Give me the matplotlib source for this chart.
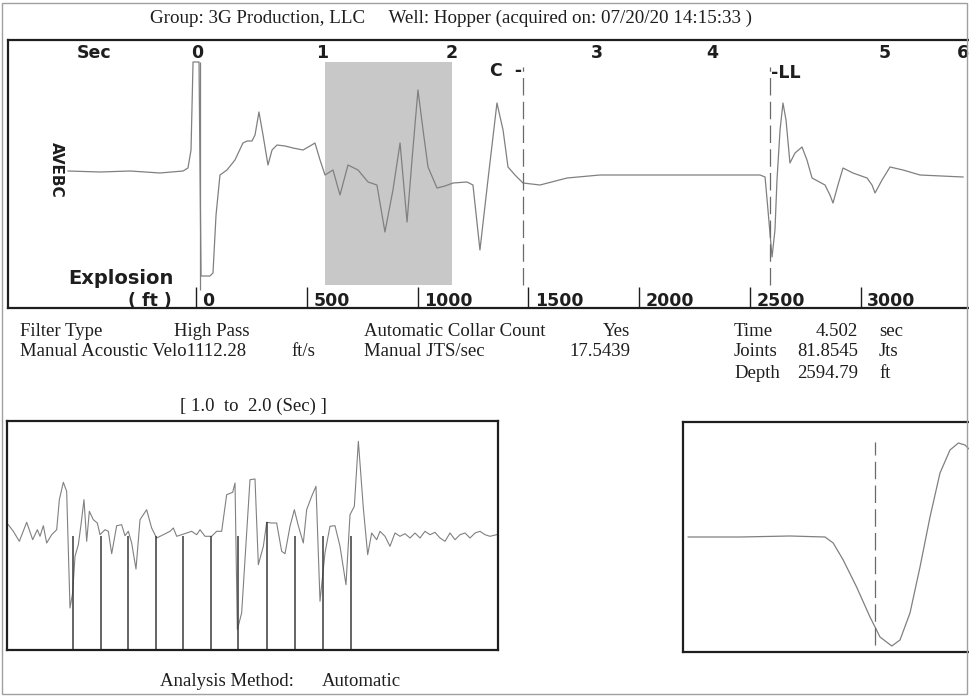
import matplotlib
matplotlib.use('Agg')
import matplotlib.pyplot as plt
from matplotlib.patches import Rectangle

W, H = 969, 697

# ---- full shot trace (time in sec, relative amplitude) ----
shot_t = [-1.024, -0.772, -0.535, -0.299, -0.118, -0.079, -0.055, -0.039, 0.008, 0.024,
          0.094, 0.118, 0.142, 0.173, 0.228, 0.291, 0.354, 0.386, 0.425, 0.449,
          0.480, 0.512, 0.551, 0.583, 0.622, 0.685, 0.748, 0.827, 0.882, 0.921,
          0.961, 1.000, 1.063, 1.118, 1.181, 1.260, 1.339, 1.409, 1.472, 1.535,
          1.591, 1.646, 1.685, 1.732, 1.772, 1.811, 1.882, 1.945, 2.008, 2.118,
          2.165, 2.220, 2.283, 2.354, 2.402, 2.441, 2.496, 2.559, 2.693, 2.906,
          3.165, 3.559, 3.850, 4.425, 4.465, 4.488, 4.520, 4.543, 4.559, 4.583,
          4.606, 4.630, 4.661, 4.701, 4.756, 4.795, 4.835, 4.937, 4.976, 5.000,
          5.039, 5.079, 5.157, 5.268, 5.307, 5.331, 5.386, 5.449, 5.551, 5.685,
          6.024]
shot_amp = [1, 0, 1, -1, 1, 4, 22, 110, 110, -104,
            -104, -101, -43, -3, 2, 12, 29, 31, 31, 37,
            60, 37, 7, 22, 27, 26, 24, 22, 26, 29,
            12, -3, 2, -23, 7, 2, -10, -13, -60, -18,
            29, -50, 12, 82, 42, 5, -16, -14, -11, -10,
            -13, -78, -8, 69, 42, 5, -3, -11, -13, -6,
            -3, -3, -3, -3, -5, -38, -85, -58, -8, 42,
            69, 52, 9, 19, 25, 12, -6, -13, -23, -31,
            -13, 4, -1, -6, -13, -21, -8, 5, 2, -3,
            -5]

sec_labels = ['0', '1', '2', '3', '4', '5', '6']
sec_label_pos = [-0.01, 0.976, 2.0, 3.142, 4.047, 5.409, 6.024]
depth_ticks = [0, 500, 1000, 1500, 2000, 2500, 3000]
explosion_t = 0.016
collar_t = 2.56
liquid_t = 4.502
window = (1.0, 2.0)

# ---- filtered window 1.0 - 2.0 sec (time in ms into window) ----
win_ms = [2.7, 12.9, 25.1, 40.1, 52.3, 61.8, 67.2, 74.0, 80.8, 91.0,
          101.2, 106.6, 114.7, 121.5, 128.3, 133.7, 138.5, 145.3, 150.7, 156.8,
          162.3, 167.7, 175.8, 184.0, 189.4, 199.6, 206.4, 213.2, 223.4, 233.5,
          240.3, 247.1, 253.9, 262.7, 270.9, 284.4, 294.6, 304.8, 318.4, 332.0,
          338.8, 345.6, 355.7, 365.9, 376.1, 386.3, 393.1, 403.3, 416.8, 427.0,
          437.2, 447.4, 459.6, 464.4, 469.1, 477.9, 488.1, 494.9, 505.1, 511.9,
          522.1, 528.9, 539.0, 549.2, 559.4, 566.2, 576.4, 585.2, 593.3, 603.5,
          610.3, 620.5, 629.3, 637.5, 647.6, 657.8, 668.0, 678.2, 690.4, 698.6,
          707.4, 715.6, 725.7, 734.6, 742.7, 752.9, 759.7, 769.9, 780.0, 790.2,
          800.4, 810.6, 820.8, 831.0, 841.1, 851.3, 861.5, 871.7, 881.9, 892.1,
          902.2, 912.4, 922.6, 932.8, 943.0, 953.2, 963.3, 973.5, 983.7, 997.3]
win_amp = [8.3, 1.7, -8.3, 10.7, -6.7, 3.3, -3.3, 7.3, -10, -1.7,
           3.3, 33.3, 50.7, 41.7, -75, -60, -23.3, -11.7, 8.3, 33.3,
           -8.3, 21.7, 13.3, 10, -1.7, 3.3, 1.7, -20.7, 7.3, 8.3,
           -2.7, 1.7, -10, -36, 13.3, 23.3, 5, -5, -1.7, 1.7,
           5, -3.3, -1.7, 0, 1.7, -1.7, 3.3, -3.3, -3.3, 1.7,
           1.7, 38.3, 40.7, 50, -96.7, -80, 0, 53.3, 54, -31.7,
           -13.3, 10.7, 10, 10, -18.3, -20.7, 6.7, 23.3, 7.3, -10,
           23.3, 36.7, 46.7, -68.3, -20, 6.7, 7.3, -13.3, -51.7, 18.3,
           26.7, 91.7, 25, -21.7, 0, -6.7, 1.7, -3.3, -13.3, 0,
           -3.3, -0.7, -5, 0, -5, 1.7, -1.7, 0.7, -5, -8.3,
           0, -6.7, -1.7, 0, -5, 0, 1.7, -1.7, -3.3, -1.7]
joint_ms = [133.8, 190.8, 247.0, 303.5, 359.1, 415.5, 471.1, 528.9, 585.9, 643.0, 700.0]
joint_top = [-3, -3, -3, -3, -3, -3, -3, 11, -3, -3, -3]

# ---- liquid level kick (ms relative to pick) ----
ll_ms = [-93.4, -67.5, -42.5, -25.0, -20.9, -15.9, -9.2, -2.5, 2.5, 8.4,
         12.5, 17.5, 22.5, 27.5, 32.5, 37.5, 41.7, 45.0, 47.5]
ll_amp = [0, 0, 1, 0, -6, -23, -50, -80, -100, -109,
          -103, -76, -30, 20, 64, 87, 94, 92, 87]

SERIF = 'Liberation Serif'
INK = '#1e1e1e'
TRACE = '#808080'


def box(x0, y0, x1, y1):
    return [x0 / W, 1 - y1 / H, (x1 - x0) / W, (y1 - y0) / H]


def frame(ax, right=True):
    for side, sp in ax.spines.items():
        sp.set_color(INK)
        sp.set_linewidth(1.6)
    if not right:
        ax.spines['right'].set_visible(False)
    ax.set_xticks([])
    ax.set_yticks([])


def px_to_sec(px):
    return (px - 198) / 127.0


def ft_to_sec(ft):
    return (ft * 0.2216 - 2) / 127.0


fig = plt.figure(figsize=(W / 100, H / 100), dpi=100)
fig.patch.set_facecolor('white')

# page border of the scan
fig.patches.append(Rectangle((0.002, 0.004), 0.996, 0.992, transform=fig.transFigure,
                             fill=False, edgecolor='#a0a0a0', lw=1.0))

fig.text(150 / W, 1 - 18 / H,
         'Group: 3G Production, LLC     Well: Hopper (acquired on: 07/20/20 14:15:33 )',
         family=SERIF, fontsize=13.7, color=INK, ha='left', va='center')

# ---- main panel ----
ax = fig.add_axes(box(8, 40, 969, 308))
ax.set_xlim(px_to_sec(8), px_to_sec(969))
ax.set_ylim(-136, 132)
frame(ax, right=False)

ax.fill_between(list(window), -113, 110, color='#c8c8c8', lw=0, zorder=1)
ax.plot(shot_t, shot_amp, color=TRACE, lw=0.9, zorder=3)
ax.vlines(explosion_t, -118, 110, color=TRACE, lw=0.9, zorder=3)
ax.vlines([collar_t, liquid_t], -113, 105, color='#6a6a6a', lw=0.9,
          linestyles=(0, (14, 5)), zorder=3)

bold = dict(family='DejaVu Sans', weight='bold', color=INK, fontsize=12.5)
ax.text(px_to_sec(94), 119, 'Sec', ha='center', va='center', **bold)
for pos, lab in zip(sec_label_pos, sec_labels):
    ax.text(pos, 119, lab, ha='center', va='center', **bold)
ax.text(collar_t - 0.01, 101, 'C  -', ha='right', va='center', **bold)
ax.text(liquid_t + 0.01, 99, '-LL', ha='left', va='center', **bold)
ax.text(px_to_sec(68), -106, 'Explosion', ha='left', va='center',
        family='DejaVu Sans', weight='bold', color=INK, fontsize=14)
ax.text(px_to_sec(150), -129, '( ft )', ha='center', va='center', **bold)
for d in depth_ticks:
    ts = ft_to_sec(d)
    ax.vlines(ts, -136, -115, color=INK, lw=1.0)
    ax.text(ts + 0.05, -129, str(d), ha='left', va='center', **bold)
ax.text(px_to_sec(56), 2, 'AVEBC', rotation=-90, ha='center', va='center',
        family='DejaVu Sans', weight='bold', color=INK, fontsize=11)

# ---- info block ----
info = dict(family=SERIF, fontsize=13.5, color=INK, va='center')
rows = [331, 352, 373]
fig.text(20 / W, 1 - rows[0] / H, 'Filter Type', ha='left', **info)
fig.text(174 / W, 1 - rows[0] / H, 'High Pass', ha='left', **info)
fig.text(20 / W, 1 - rows[1] / H, 'Manual Acoustic Velo1112.28', ha='left', **info)
fig.text(291 / W, 1 - rows[1] / H, 'ft/s', ha='left', **info)
fig.text(364 / W, 1 - rows[0] / H, 'Automatic Collar Count', ha='left', **info)
fig.text(630 / W, 1 - rows[0] / H, 'Yes', ha='right', **info)
fig.text(364 / W, 1 - rows[1] / H, 'Manual JTS/sec', ha='left', **info)
fig.text(630 / W, 1 - rows[1] / H, '17.5439', ha='right', **info)
for r, (name, val, unit) in enumerate([('Time', '4.502', 'sec'),
                                        ('Joints', '81.8545', 'Jts'),
                                        ('Depth', '2594.79', 'ft')]):
    fig.text(734 / W, 1 - rows[r] / H, name, ha='left', **info)
    fig.text(858 / W, 1 - rows[r] / H, val, ha='right', **info)
    fig.text(879 / W, 1 - rows[r] / H, unit, ha='left', **info)

big = dict(family=SERIF, fontsize=13.5, color=INK, va='center')
fig.text(253 / W, 1 - 406 / H, '[ 1.0  to  2.0 (Sec) ]', ha='center', **big)
fig.text(160 / W, 1 - 682 / H, 'Analysis Method:', ha='left', **big)
fig.text(322 / W, 1 - 682 / H, 'Automatic', ha='left', **big)

# ---- window panel ----
ax2 = fig.add_axes(box(7, 421, 498, 650))
ax2.set_xlim(0, 1000)
ax2.set_ylim(-117, 112)
frame(ax2)
ax2.plot(win_ms, win_amp, color=TRACE, lw=0.8)
ax2.vlines(joint_ms, -117, joint_top, color='#3a3a3a', lw=1.1)

# ---- liquid level panel ----
ax3 = fig.add_axes(box(683, 422, 1000, 652))
ax3.set_xlim(-96, 62.5)
ax3.set_ylim(-115, 115)
frame(ax3, right=False)
ax3.plot(ll_ms, ll_amp, color=TRACE, lw=0.9)
ax3.vlines(0, -108, 95, color='#6a6a6a', lw=0.9, linestyles=(0, (14, 5)))

fig.savefig('out.png', dpi=100)
